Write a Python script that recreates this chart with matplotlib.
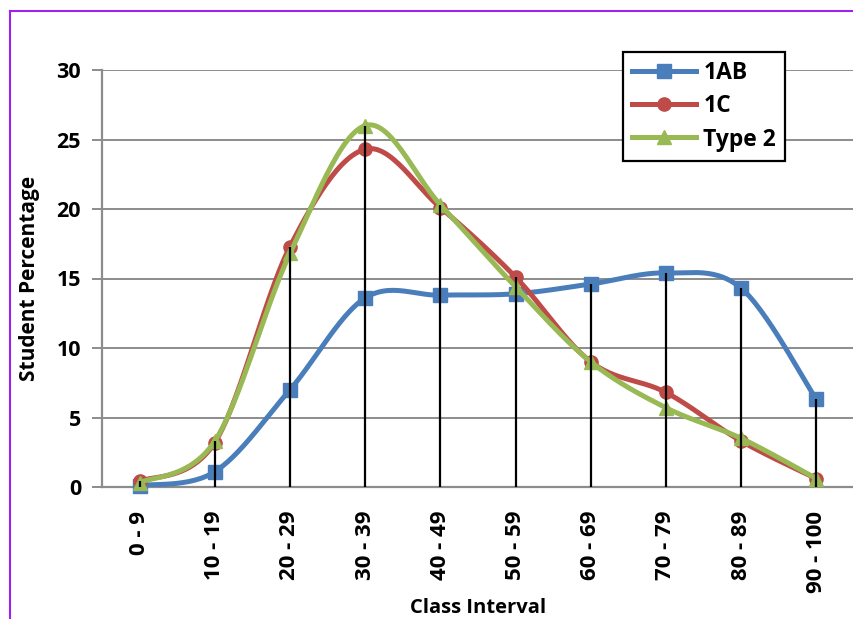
import numpy as np
import matplotlib
matplotlib.use("Agg")
import matplotlib.pyplot as plt
from matplotlib.lines import Line2D

plt.rcParams['font.family'] = ['Open Sans', 'DejaVu Sans']
plt.rcParams['font.weight'] = 'bold'

# class intervals and student percentages per group
classes = ['0 - 9', '10 - 19', '20 - 29', '30 - 39', '40 - 49',
           '50 - 59', '60 - 69', '70 - 79', '80 - 89', '90 - 100']
pct_1ab = [0.1, 1.1, 7.0, 13.6, 13.8, 13.9, 14.6, 15.4, 14.3, 6.3]
pct_1c = [0.4, 3.2, 17.3, 24.3, 20.1, 15.1, 9.0, 6.8, 3.3, 0.6]
pct_type2 = [0.3, 3.3, 16.8, 26.0, 20.3, 14.4, 9.0, 5.7, 3.5, 0.6]

series = [
    ('1AB', pct_1ab, '#4A7EBB', 's', 9.5),
    ('1C', pct_1c, '#BE4B48', 'o', 9.5),
    ('Type 2', pct_type2, '#98B954', '^', 9.5),
]


def smooth(xs, ys, steps=30):
    # spreadsheet-style smoothed line: cubic Bezier with Catmull-Rom handles
    pts = np.column_stack([xs, ys]).astype(float)
    padded = np.vstack([pts[0], pts, pts[-1]])
    t = np.linspace(0, 1, steps)[:, None]
    out = []
    for i in range(len(pts) - 1):
        p0, p1, p2, p3 = padded[i], padded[i + 1], padded[i + 2], padded[i + 3]
        c1 = p1 + (p2 - p0) / 6
        c2 = p2 - (p3 - p1) / 6
        seg = ((1 - t) ** 3 * p1 + 3 * (1 - t) ** 2 * t * c1
               + 3 * (1 - t) * t ** 2 * c2 + t ** 3 * p2)
        out.append(seg if i == 0 else seg[1:])
    curve = np.vstack(out)
    return curve[:, 0], curve[:, 1]


fig = plt.figure(figsize=(8.54, 6.19), dpi=100)
ax = fig.add_axes([102 / 854, 132 / 619, 752 / 854, 417 / 619])

x = np.arange(len(classes))
handles = []
for name, vals, color, marker, ms in series:
    sx, sy = smooth(x, vals)
    ax.plot(sx, sy, color=color, lw=3.6, solid_capstyle='round', zorder=3)
    ax.plot(x, vals, linestyle='none', marker=marker, ms=ms, color=color,
            zorder=3, clip_on=False)
    handles.append(Line2D([], [], color=color, lw=3.6, marker=marker, ms=ms))

# drop lines from the axis to the highest series at each class
tops = np.max([pct_1ab, pct_1c, pct_type2], axis=0)
ax.vlines(x, 0, tops, colors='black', lw=1.6, zorder=4)

ax.set_xlim(-0.5, len(classes) - 0.5)
ax.set_ylim(0, 30)
ax.set_yticks(range(0, 31, 5))
ax.yaxis.grid(True, color='#8C8C8C', lw=1.4)
ax.set_axisbelow(True)
ax.set_xticks(x)
ax.set_xticklabels(classes, rotation=90, fontsize=16, fontweight='bold')
ax.tick_params(axis='x', length=0, pad=17)
ax.tick_params(axis='y', length=7, width=1.4, color='#8C8C8C',
               labelsize=15.5, pad=8)
for lbl in ax.get_yticklabels():
    lbl.set_fontweight('bold')

for side in ('top', 'right'):
    ax.spines[side].set_visible(False)
for side in ('left', 'bottom'):
    ax.spines[side].set_color('#8C8C8C')
    ax.spines[side].set_linewidth(1.6)

ax.set_ylabel('Student Percentage', fontsize=15, fontweight='bold', labelpad=12)
ax.set_xlabel('Class Interval', fontsize=14.5, fontweight='bold', labelpad=4)

leg = fig.legend(handles, [s[0] for s in series], loc='upper left',
                 bbox_to_anchor=(623 / 854, 1 - 52 / 619),
                 bbox_transform=fig.transFigure, fancybox=False,
                 edgecolor='black', framealpha=1, fontsize=16.5,
                 handlelength=2.8, borderpad=0.4, labelspacing=0.4,
                 handletextpad=0.3, borderaxespad=0)
leg.get_frame().set_linewidth(1.6)
for txt in leg.get_texts():
    txt.set_fontweight('bold')

# purple frame on the left and top edges
fig.add_artist(Line2D([10 / 854, 10 / 854], [0, 1 - 11 / 619],
                      color='#A020F0', lw=1.5, transform=fig.transFigure))
fig.add_artist(Line2D([10 / 854, 1], [1 - 11 / 619, 1 - 11 / 619],
                      color='#A020F0', lw=1.5, transform=fig.transFigure))

fig.savefig('out.png', dpi=100)
